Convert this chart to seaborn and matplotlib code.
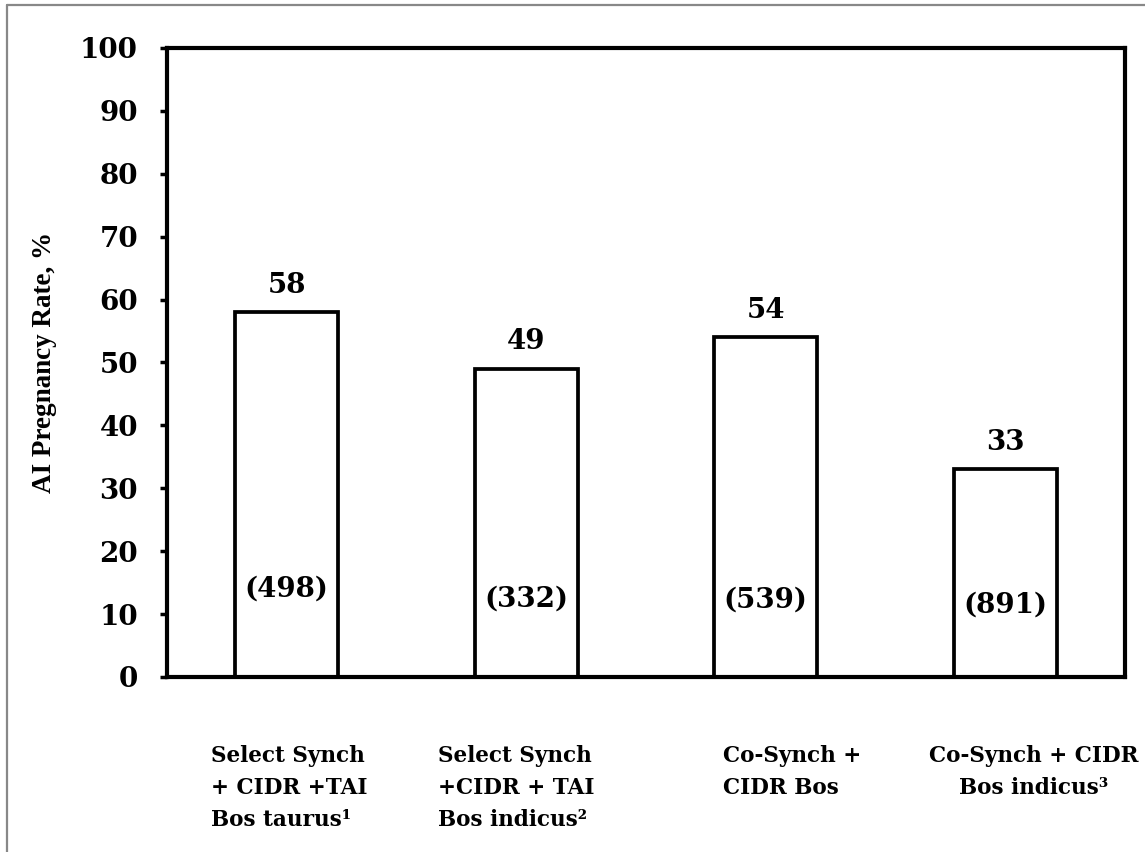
import matplotlib
matplotlib.use("Agg")
import matplotlib.pyplot as plt
from matplotlib.lines import Line2D
import pandas as pd
import seaborn as sns

sns.set_theme(style="white")
plt.rcParams["font.family"] = ["DejaVu Serif"]
plt.rcParams["text.color"] = "black"
plt.rcParams["axes.labelcolor"] = "black"

# Data
categories = [
    "Select Synch\n+ CIDR +TAI\nBos taurus\u00b9",
    "Select Synch\n+CIDR + TAI\nBos indicus\u00b2",
    "Co-Synch +\nCIDR Bos",
    "Co-Synch + CIDR\nBos indicus\u00b3",
]
rates = [58, 49, 54, 33]
counts = [498, 332, 539, 891]
yticks = [0, 10, 20, 30, 40, 50, 60, 70, 80, 90, 100]

# Layout only (not data)
count_label_y = [14.0, 12.4, 12.3, 11.4]
label_shift = [0.01, -0.04, 0.11, 0.12]
label_align = ["left", "left", "left", "center"]

df = pd.DataFrame({"group": categories, "rate": rates})

fig = plt.figure(figsize=(11.45, 8.52), dpi=100)
ax = fig.add_axes([0.1459, 0.2054, 0.8366, 0.7383])

sns.barplot(data=df, x="group", y="rate", order=categories, color="white",
            edgecolor="black", linewidth=2.7, width=0.43, saturation=1, ax=ax)
for p in ax.patches:
    p.set_facecolor("white")

ax.set_xlim(-0.5, 3.5)
ax.set_ylim(0, 100)
ax.set_yticks(yticks)
ax.set_yticklabels([str(t) for t in yticks], fontsize=20, fontweight="bold")
ax.tick_params(axis="y", direction="out", length=5, width=2.5, pad=16, left=True, colors="black")
ax.tick_params(axis="x", bottom=False, labelbottom=False)
ax.set_xlabel("")

ax.set_ylabel("AI Pregnancy Rate, %", family="Liberation Serif", fontsize=19.5,
              fontweight="bold", color="black")
ax.yaxis.label.set_va("center")
ax.yaxis.set_label_coords(-0.128, 0.5)

for spine in ax.spines.values():
    spine.set_visible(True)
    spine.set_edgecolor("black")
    spine.set_linewidth(3)

# value labels above bars and group sizes inside
for i, (r, n) in enumerate(zip(rates, counts)):
    ax.annotate(str(r), (i, r), xytext=(0, 14), textcoords="offset points",
                ha="center", va="baseline", fontsize=20, fontweight="bold", color="black")
    ax.text(i, count_label_y[i], "(%d)" % n, ha="center", va="center",
            fontsize=20, fontweight="bold", color="black")

# multi-line category labels under the axis
trans = ax.get_xaxis_transform()
for i, lab in enumerate(categories):
    ax.text(i + label_shift[i], -0.108, lab, transform=trans, ha="center", va="top",
            ma=label_align[i], fontsize=15.5, fontweight="bold", linespacing=1.6,
            color="black")

# grey frame (only left and top edges visible in the reference)
fig.add_artist(Line2D([0.0061, 0.0061], [0, 0.9941], transform=fig.transFigure,
                      color="#888888", linewidth=1.6))
fig.add_artist(Line2D([0.0061, 1.0], [0.9941, 0.9941], transform=fig.transFigure,
                      color="#888888", linewidth=1.6))

fig.savefig("out.png", dpi=100, facecolor="white")
